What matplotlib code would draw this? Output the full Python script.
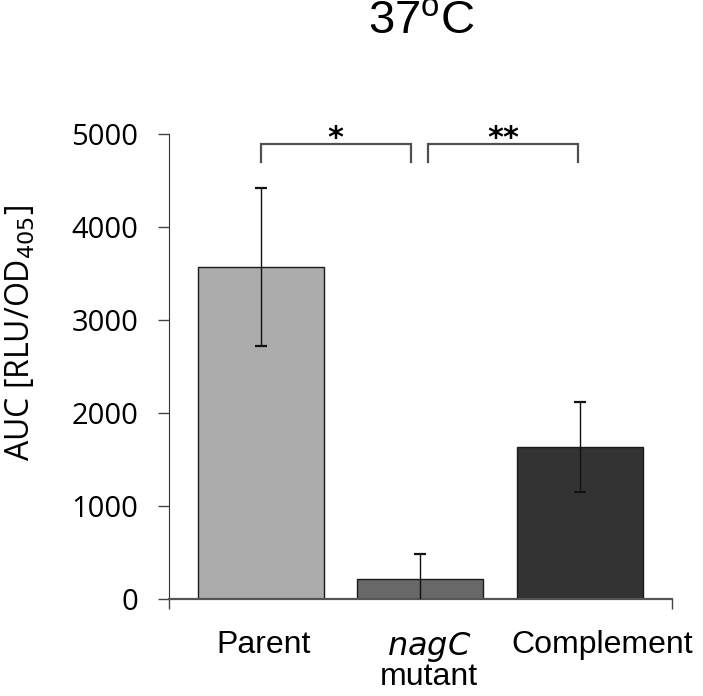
import matplotlib
matplotlib.use("Agg")
import matplotlib.pyplot as plt
import matplotlib.transforms as mtransforms
import numpy as np

grupos = ["Parent", "$\\it{nagC}$\nmutant", "Complement"]
auc = [3573, 212, 1634]
err = [848, 275, 484]
colores = ["#acacac", "#686868", "#333333"]

# comparaciones (grupo a, grupo b, marca)
comparaciones = [(0, 0.94, "*"), (1.05, 1.99, "**")]
y_barra = 4700
y_tope = 4895

x = np.arange(len(grupos))

fig = plt.figure(figsize=(7.03, 6.96), dpi=100)
ax = fig.add_axes([0.2404, 0.1394, 0.7151, 0.6681])

ax.bar(x, auc, width=0.787, color=colores, edgecolor="#1a1a1a", linewidth=1.0, zorder=2)
ax.errorbar(x, auc, yerr=err, fmt="none", ecolor="#111111", elinewidth=1.0,
            capsize=4, capthick=1.6, zorder=3)

for a, b, marca in comparaciones:
    ax.plot([a, a, b, b], [y_barra, y_tope, y_tope, y_barra], color="#505050",
            lw=1.6, clip_on=False, solid_joinstyle="miter")
    ax.text((a + b) / 2, y_tope - 40, marca, ha="center", va="baseline",
            fontsize=22, fontweight="bold", family="DejaVu Sans")

ax.set_xlim(-0.575, 2.576)
ax.set_ylim(0, 5000)
ax.set_yticks(np.arange(0, 5001, 1000))
ax.set_xticks(x)
ax.set_xticklabels(grupos, family="Liberation Sans", fontsize=23, linespacing=0.95)
ax.tick_params(axis="x", length=0, pad=22)
# las etiquetas del original estan algo corridas a la derecha
desplaz = [3, 9, 22]
for lab, dx in zip(ax.get_xticklabels(), desplaz):
    lab.set_transform(lab.get_transform() +
                      mtransforms.ScaledTranslation(dx / 100, 0, fig.dpi_scale_trans))
ax.set_xticks([-0.575, 2.576], minor=True)
ax.tick_params(axis="x", which="minor", length=7, width=1.0, color="#444444", direction="out")
ax.tick_params(axis="y", length=8, width=1.0, color="#444444", direction="out", pad=14,
               labelsize=21)
for lab in ax.get_yticklabels():
    lab.set_family("Open Sans")

for s in ["top", "right"]:
    ax.spines[s].set_visible(False)
ax.spines["left"].set_color("#333333")
ax.spines["bottom"].set_color("#555555")
ax.spines["bottom"].set_linewidth(1.6)

ax.set_ylabel("AUC [RLU/OD$_{405}$]", family="Open Sans", fontsize=23)
ax.yaxis.set_label_coords(-0.261, 0.571)

fig.text(0.600, 1 - 33 / 696, "37$^{\\mathregular{o}}$C", ha="center", va="baseline",
         family="Liberation Sans", fontsize=34)

fig.savefig("out.png", dpi=100)
